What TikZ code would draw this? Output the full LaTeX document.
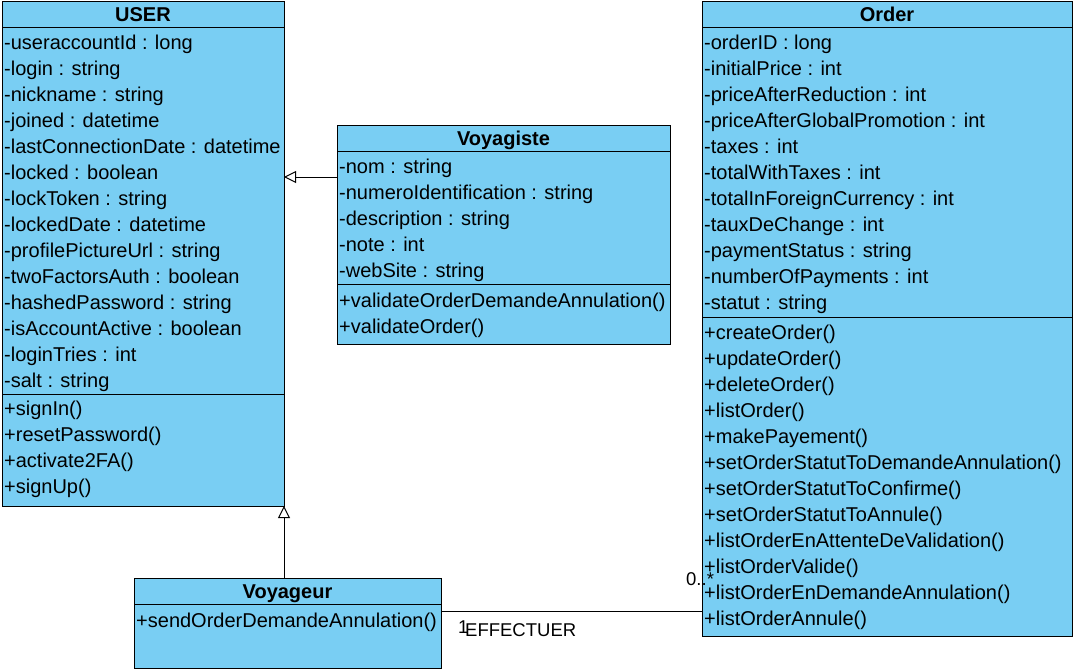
\documentclass[tikz,border=0pt]{standalone}
\usepackage{fontspec}
\setmainfont{Liberation Sans}
\usetikzlibrary{arrows.meta}
\definecolor{clsfill}{RGB}{121,206,243}
\begin{document}
\begin{tikzpicture}[x=1pt,y=-1pt,
  clsbox/.style={draw=black, fill=clsfill, line width=1pt, rectangle, inner sep=0pt, outer sep=0pt, anchor=north west},
  member/.style={anchor=base west, inner sep=0pt, font=\fontsize{20}{24}\selectfont},
  clstitle/.style={anchor=base, inner sep=0pt, font=\fontsize{20}{24}\selectfont\bfseries},
  sepline/.style={line width=1pt},
  gen/.style={line width=1pt, -{Triangle[open, length=12pt, width=12pt]}},
  assoc/.style={line width=1pt},
  role/.style={anchor=base west, inner sep=0pt, font=\fontsize{18.5}{22}\selectfont}]
\useasboundingbox (0,0) rectangle (1077,672);

% ---------- USER ----------
\node[clsbox, minimum width=282pt, minimum height=505pt] (user) at (2,1) {};
\draw[sepline] ([yshift=-26pt]user.north west) -- ([yshift=-26pt]user.north east);
\draw[sepline] ([yshift=-393pt]user.north west) -- ([yshift=-393pt]user.north east);
\node[clstitle] (user-t) at (143,21) {USER};
\foreach \t [count=\i from 0] in {-useraccountId : long,-login : string,-nickname : string,-joined : datetime,-lastConnectionDate : datetime,-locked : boolean,-lockToken : string,-lockedDate : datetime,-profilePictureUrl : string,-twoFactorsAuth : boolean,-hashedPassword : string,-isAccountActive : boolean,-loginTries : int,-salt : string}
  \node[member] (user-a\i) at (4,{49+26*\i}) {\t};
\foreach \t [count=\i from 0] in {+signIn(),+resetPassword(),+activate2FA(),+signUp()}
  \node[member] (user-m\i) at (4,{415+26*\i}) {\t};

% ---------- Voyagiste ----------
\node[clsbox, minimum width=333pt, minimum height=219pt] (voyagiste) at (337,125) {};
\draw[sepline] ([yshift=-26pt]voyagiste.north west) -- ([yshift=-26pt]voyagiste.north east);
\draw[sepline] ([yshift=-159pt]voyagiste.north west) -- ([yshift=-159pt]voyagiste.north east);
\node[clstitle] (voyagiste-t) at (503.5,145) {Voyagiste};
\foreach \t [count=\i from 0] in {-nom : string,-numeroIdentification : string,-description : string,-note : int,-webSite : string}
  \node[member] (voyagiste-a\i) at (339,{173+26*\i}) {\t};
\foreach \t [count=\i from 0] in {+validateOrderDemandeAnnulation(),+validateOrder()}
  \node[member] (voyagiste-m\i) at (339,{307+26*\i}) {\t};

% ---------- Order ----------
\node[clsbox, minimum width=370pt, minimum height=635pt] (order) at (702,1) {};
\draw[sepline] ([yshift=-26pt]order.north west) -- ([yshift=-26pt]order.north east);
\draw[sepline] ([yshift=-316pt]order.north west) -- ([yshift=-316pt]order.north east);
\node[clstitle] (order-t) at (887,21) {Order};
\foreach \t [count=\i from 0] in {-orderID : long,-initialPrice : int,-priceAfterReduction : int,-priceAfterGlobalPromotion : int,-taxes : int,-totalWithTaxes : int,-totalInForeignCurrency : int,-tauxDeChange : int,-paymentStatus : string,-numberOfPayments : int,-statut : string}
  \node[member] (order-a\i) at (704,{49+26*\i}) {\t};
\foreach \t [count=\i from 0] in {+createOrder(),+updateOrder(),+deleteOrder(),+listOrder(),+makePayement(),+setOrderStatutToDemandeAnnulation(),+setOrderStatutToConfirme(),+setOrderStatutToAnnule(),+listOrderEnAttenteDeValidation(),+listOrderValide(),+listOrderEnDemandeAnnulation(),+listOrderAnnule()}
  \node[member] (order-m\i) at (704,{339+26*\i}) {\t};

% ---------- Voyageur ----------
\node[clsbox, minimum width=307pt, minimum height=90pt] (voyageur) at (134,578) {};
\draw[sepline] ([yshift=-26pt]voyageur.north west) -- ([yshift=-26pt]voyageur.north east);
\node[clstitle] (voyageur-t) at (287.5,598) {Voyageur};
\node[member] (voyageur-m0) at (136,627) {+sendOrderDemandeAnnulation()};

% ---------- connectors ----------
\coordinate (genY) at (0,177);
\coordinate (assocY) at (0,611);
\draw[gen] (voyagiste.west |- genY) -- (user.east |- genY);
\draw[gen] (voyageur.north -| user.east) -- (user.south east);
\draw[assoc] (voyageur.east |- assocY) -- (order.west |- assocY);
\node[role] (mult1) at (458,633) {1};
\node[role] (assoc-name) at (465,636) {EFFECTUER};
\node[role] (mult2) at (686,585) {0..*};
\end{tikzpicture}
\end{document}
